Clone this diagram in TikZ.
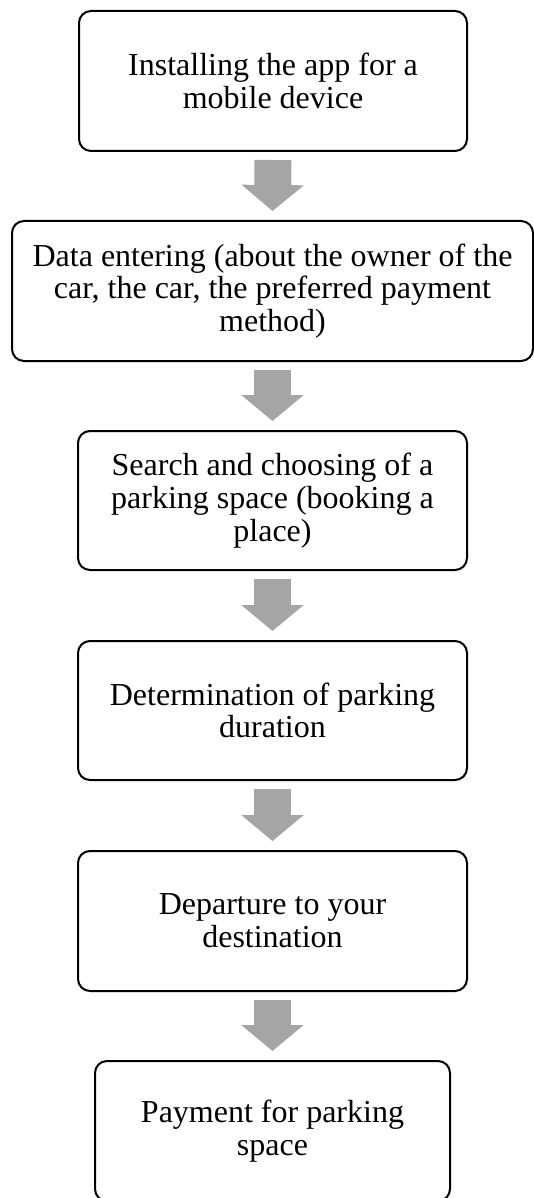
\documentclass[tikz,border=0pt]{standalone}
\usepackage{fontspec}
\setmainfont{Liberation Serif}
\usetikzlibrary{arrows.meta,calc}
\definecolor{arrowgray}{HTML}{A5A5A5}
\begin{document}
\begin{tikzpicture}[x=0.75pt,y=-0.75pt,
  stepbox/.style={draw=black, line width=1.5pt, rounded corners=9pt, align=center,
    font=\fontsize{24}{24.5}\selectfont, inner sep=0pt, minimum height=105pt},
  flow/.style={draw=arrowgray, line width=27.75pt,
    -{Triangle[width=45.75pt,length=19.5pt]}}]
\useasboundingbox (0,0) rectangle (534,1198);
\node[stepbox, minimum width=291pt] (b1) at (273,81) {Installing the app for a\\mobile device};
\node[stepbox, minimum width=390.75pt] (b2) at (272.5,291) {Data entering (about the owner of the\\car, the car, the preferred payment\\method)};
\node[stepbox, minimum width=291.75pt, minimum height=104.25pt] (b3) at (272.5,500.5) {Search and choosing of a\\parking space (booking a\\place)};
\node[stepbox, minimum width=291.75pt, minimum height=104.25pt] (b4) at (272.5,710.5) {Determination of parking\\duration};
\node[stepbox, minimum width=291.75pt] (b5) at (272.5,921) {Departure to your\\destination};
\node[stepbox, minimum width=266.25pt] (b6) at (272.5,1131) {Payment for parking\\space};
\draw[flow] ($(b1.south)+(0,8)$) -- ($(b2.north)+(0,-9)$);
\draw[flow] ($(b2.south)+(0,8)$) -- ($(b3.north)+(0,-9)$);
\draw[flow] ($(b3.south)+(0,8)$) -- ($(b4.north)+(0,-9)$);
\draw[flow] ($(b4.south)+(0,8)$) -- ($(b5.north)+(0,-9)$);
\draw[flow] ($(b5.south)+(0,8)$) -- ($(b6.north)+(0,-9)$);
\end{tikzpicture}
\end{document}
